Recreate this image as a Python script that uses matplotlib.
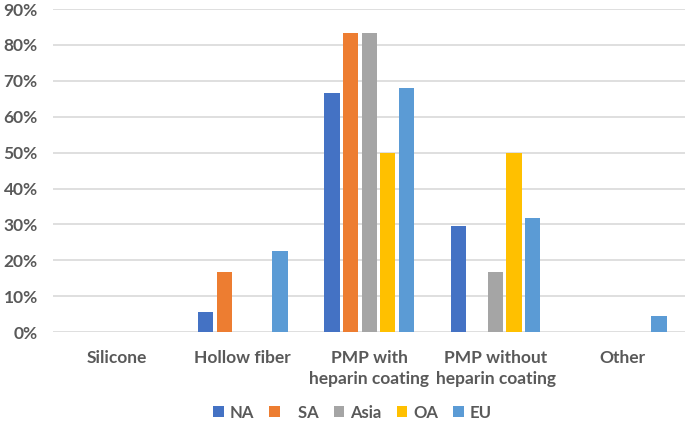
import numpy as np
import matplotlib.pyplot as plt

categories = ["Silicone", "Hollow fiber", "PMP with\nheparin coating",
              "PMP without\nheparin coating", "Other"]
series = ["NA", "SA", "Asia", "OA", "EU"]
na = [0, 5.6, 66.7, 29.6, 0]
sa = [0, 16.7, 83.3, 0, 0]
asia = [0, 0, 83.3, 16.7, 0]
oa = [0, 0, 50.0, 50.0, 0]
eu = [0, 22.7, 68.0, 31.8, 4.5]
colors = ["#4472C4", "#ED7D31", "#A5A5A5", "#FFC000", "#5B9BD5"]

plt.rcParams['font.family'] = ['Lato', 'DejaVu Sans']
grey = "#595959"

fig = plt.figure(figsize=(6.9, 4.33), dpi=100)
ax = fig.add_axes([0.077, 0.233, 0.916, 0.746])

x = np.arange(len(categories))
slot = 0.147
width = 0.121
for i, (name, vals) in enumerate(zip(series, [na, sa, asia, oa, eu])):
    label = "   " + name if name == "SA" else name
    ax.bar(x + (i - 2) * slot, vals, width=width, color=colors[i], label=label, zorder=3)

ax.set_xlim(-0.5, len(categories) - 0.5)
ax.set_ylim(0, 90)
ax.set_yticks(np.arange(0, 91, 10))
ax.set_yticklabels([f"{v}%" for v in range(0, 91, 10)])
ax.set_xticks(x)
ax.set_xticklabels(categories, linespacing=1.4, va='top')
ax.grid(axis='y', color='#D9D9D9', linewidth=1.2, zorder=0)
for s in ax.spines.values():
    s.set_visible(False)
ax.tick_params(length=0, labelsize=12.5, labelcolor=grey)
ax.tick_params(axis='x', pad=13)
ax.tick_params(axis='y', pad=11)
for t in ax.get_xticklabels() + ax.get_yticklabels():
    t.set_fontweight('bold')

leg = fig.legend(loc='center', bbox_to_anchor=(0.511, 0.047), ncol=5, frameon=False,
                 handlelength=0.65, handleheight=0.65, handletextpad=0.35, columnspacing=0.9,
                 prop={'weight': 'bold', 'size': 12})
for t in leg.get_texts():
    t.set_color(grey)

fig.savefig("out.png", dpi=100)
